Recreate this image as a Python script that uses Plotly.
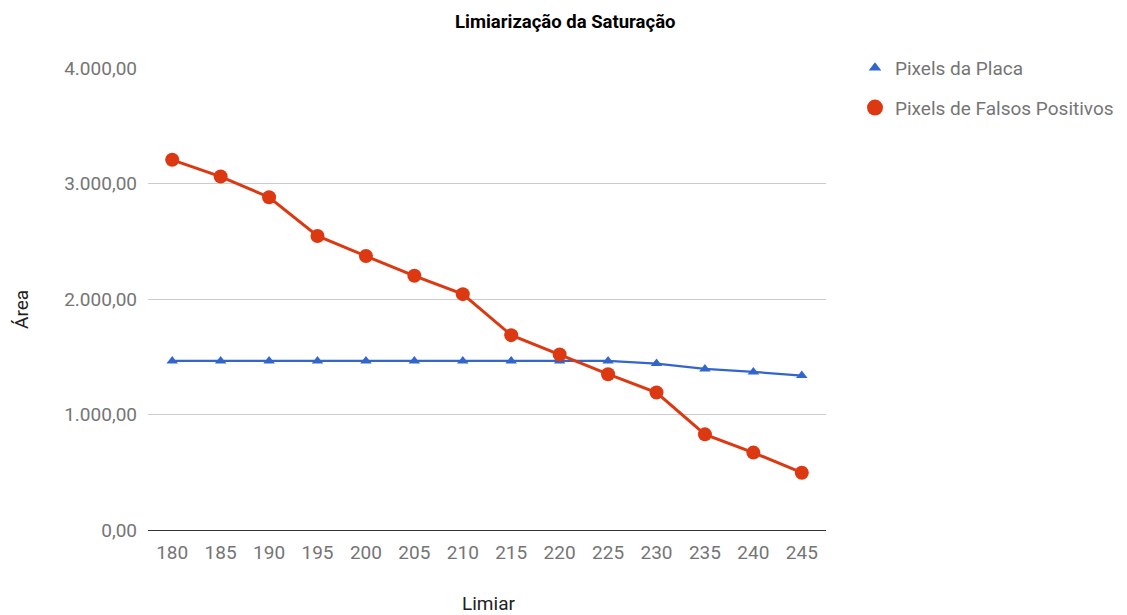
import plotly.graph_objects as go

# Threshold values (x axis) and measured areas for each series
limiar = [180, 185, 190, 195, 200, 205, 210, 215, 220, 225, 230, 235, 240, 245]
pixels_placa = [1464, 1464, 1464, 1464, 1464, 1464, 1464, 1464, 1464, 1464, 1441, 1395, 1369, 1337]
falsos_positivos = [3205, 3060, 2881, 2546, 2372, 2201, 2042, 1687, 1519, 1349, 1190, 828, 670, 496]
y_ticks = [0, 1000, 2000, 3000, 4000]

BLUE = "#3366cc"
RED = "#dc3912"
GRAY = "#757575"
FONT = "Roboto"
SIZE = 19

fig = go.Figure()

# Data lines (legend drawn from marker-only entries below)
fig.add_trace(go.Scatter(
    x=limiar, y=pixels_placa, mode="lines+markers", showlegend=False,
    line=dict(color=BLUE, width=2.2),
    marker=dict(symbol="triangle-up", size=10, color=BLUE),
    name="Pixels da Placa",
))
fig.add_trace(go.Scatter(
    x=limiar, y=falsos_positivos, mode="lines+markers", showlegend=False,
    line=dict(color=RED, width=3),
    marker=dict(symbol="circle", size=14, color=RED),
    name="Pixels de Falsos Positivos",
))

# Legend entries: markers only
fig.add_trace(go.Scatter(
    x=[None], y=[None], mode="markers", name="Pixels da Placa",
    marker=dict(symbol="triangle-up", size=11, color=BLUE), legendgroup="a",
))
fig.add_trace(go.Scatter(
    x=[None], y=[None], mode="markers", name="Pixels de Falsos Positivos",
    marker=dict(symbol="circle", size=16, color=RED), legendgroup="b",
))

fig.update_layout(
    width=1127, height=615,
    margin=dict(l=148, r=301, t=68, b=85),
    paper_bgcolor="white", plot_bgcolor="white",
    font=dict(family=FONT, size=SIZE, color=GRAY),
    separators=",.",
    legend=dict(
        xref="container", yref="container",
        x=855 / 1127, y=1 - 49 / 615, xanchor="left", yanchor="top",
        font=dict(family=FONT, size=SIZE, color=GRAY),
        traceorder="grouped", tracegroupgap=12,
        itemclick=False, itemdoubleclick=False,
    ),
    annotations=[
        dict(text="<b>Limiarização da Saturação</b>", xref="paper", yref="paper",
             x=(565 - 148) / 678, y=1, yanchor="middle", yshift=46, showarrow=False,
             font=dict(family=FONT, size=18.5, color="#000000")),
        dict(text="Limiar", xref="paper", yref="paper",
             x=(488 - 148) / 678, y=0, yanchor="middle", yshift=-73, showarrow=False,
             font=dict(family=FONT, size=SIZE, color="#222222")),
        dict(text="Área", xref="paper", yref="paper", textangle=-90,
             x=0, xanchor="center", xshift=-127, y=(530 - 310) / 462,
             yanchor="middle", showarrow=False,
             font=dict(family=FONT, size=SIZE, color="#222222")),
    ],
)

fig.update_xaxes(
    range=[177.5, 247.5], tickmode="array", tickvals=limiar,
    ticktext=[str(v) for v in limiar],
    showgrid=False, zeroline=False, showline=False,
    ticklabelstandoff=9, tickfont=dict(color=GRAY, size=SIZE),
)
fig.update_yaxes(
    range=[0, 4000], tickmode="array", tickvals=y_ticks, tickformat=",.2f",
    showgrid=True, gridcolor="#cccccc", gridwidth=1,
    zeroline=True, zerolinecolor="#333333", zerolinewidth=1,
    showline=False, ticklabelstandoff=10, tickfont=dict(color=GRAY, size=SIZE),
)

fig.write_html("out.html")
